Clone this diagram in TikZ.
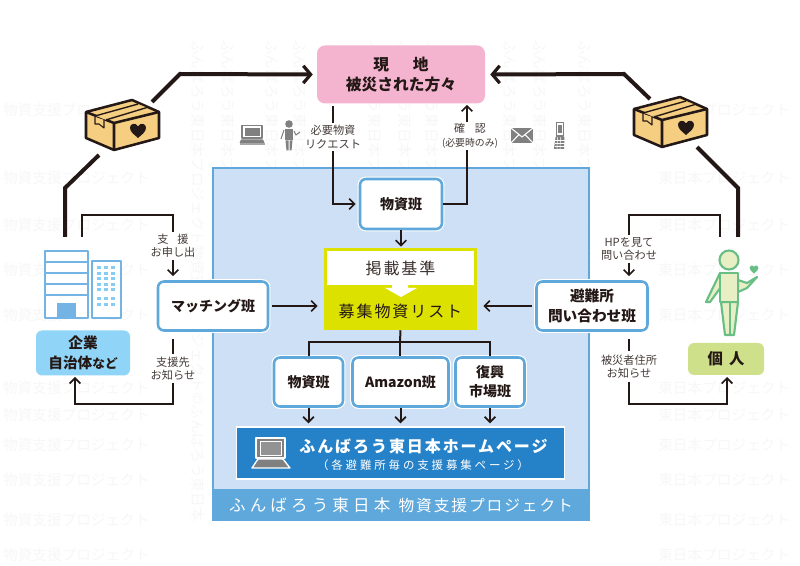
\documentclass[tikz,border=0pt]{standalone}
\usepackage{fontspec}
\setmainfont{Noto Sans CJK JP}
\newfontfamily\jpsp[LetterSpace=12]{Noto Sans CJK JP}
\newfontfamily\jpspw[LetterSpace=25]{Noto Sans CJK JP}
\usetikzlibrary{arrows.meta,calc}
\definecolor{inkc}{HTML}{231815}
\definecolor{pinkc}{HTML}{F4B4D0}
\definecolor{panelc}{HTML}{CDE0F5}
\definecolor{edgec}{HTML}{5FA8DC}
\definecolor{buildc}{HTML}{74B4E4}
\definecolor{barc}{HTML}{2682C8}
\definecolor{yelc}{HTML}{DDE100}
\definecolor{skyc}{HTML}{90D5F8}
\definecolor{limec}{HTML}{CFE08A}
\definecolor{kraftc}{HTML}{F5CE82}
\definecolor{greenc}{HTML}{68BE84}
\definecolor{paleg}{HTML}{E8EFC5}
\definecolor{greyc}{HTML}{808080}
\definecolor{wmc}{HTML}{F7F7F7}
\tikzset{
  sz/.style 2 args={minimum width=#1*0.75pt,minimum height=#2*0.75pt},
  team/.style={draw=edgec,line width=1.9pt,fill=white,rounded corners=4.5pt,inner sep=0pt,align=center,text=inkc,
     font=\fontsize{10.5}{15}\selectfont\bfseries,
     preaction={draw=white,line width=3.6pt}},
  lbl/.style={inner sep=0pt,align=center,text=inkc!85,font=\fontsize{8.4}{10}\selectfont},
  conn/.style={draw=inkc,line width=1.5pt},
  arr/.style={conn,-{Straight Barb[length=4pt,width=8pt,line width=1.3pt]}},
  big/.style={draw=inkc,line width=3pt},
  bigarr/.style={big,-{Straight Barb[length=5.5pt,width=13pt,line width=2.4pt]}},
  wmark/.style={text=wmc,font=\fontsize{11}{11}\selectfont,inner sep=0pt},
}
\newcommand{\heartat}[4]{% colour x y halfwidth
  \begin{scope}[shift={(#2,#3)},x=#4*0.75pt,y=-#4*0.75pt]
    \fill[#1] (0,1) .. controls (-.5,.55) and (-1,.25) .. (-1,-.3) .. controls (-1,-.8) and (-.3,-1) .. (0,-.45)
      .. controls (.3,-1) and (1,-.8) .. (1,-.3) .. controls (1,.25) and (.5,.55) .. (0,1) -- cycle;
  \end{scope}}
\newcommand{\parcel}[2]{%
  \begin{scope}[shift={(#1,#2)}]
    \draw[inkc,line width=1.9pt,fill=kraftc,line join=round] (86,112) -- (132,100) -- (159,112) -- (159,138) -- (114,150) -- (86,138) -- cycle;
    \draw[inkc,line width=1.9pt,line join=round] (86,112) -- (114,123) -- (159,112) (114,123) -- (114,150);
    \fill[kraftc!85!inkc] (96,116) -- (138,104) -- (147,107.5) -- (106,120) -- cycle;
    \fill[kraftc] (98,116) -- (139,105) -- (145,107.5) -- (104,119) -- cycle;
    \draw[inkc,line width=1pt] (95,116) -- (138,104) (106,120) -- (147,107.5);
    \draw[inkc,line width=.8pt,fill=kraftc,line join=round] (95,117) -- (95,124) -- (99,124) -- (104,128) -- (104,120);
    \heartat{inkc}{138}{130}{8}
  \end{scope}}
\begin{document}
\begin{tikzpicture}[x=0.75pt,y=-0.75pt]
\useasboundingbox (0,0) rectangle (800,566);
\fill[white] (0,0) rectangle (800,566);
% faint watermark
\foreach \xx in {198,228,272,300,375,405,432,510,540,585}
  \node[wmark,rotate=-90,anchor=west] at (\xx,40)
    {ふんばろう東日本プロジェクト物資支援プロジェクト©ふんばろう東日本};
\foreach \yy in {110,178,225,270,315,388,415,445,480,520,555}{
  \node[wmark,anchor=east] at (150,\yy) {物資支援プロジェクト};
  \node[wmark,anchor=west] at (658,\yy) {東日本プロジェクト};
}
% panel
\node[draw=edgec,fill=panelc,line width=2.2pt,inner sep=0pt,sz={376}{351}] (panel) at (401,343.5) {};
\node[fill=edgec,inner sep=0pt,sz={378}{32},text=white,font=\fontsize{12.4}{14}\selectfont] (band) at (401,505)
  {\jpspw ふんばろう東日本\hspace{.5em}\fontsize{11.8}{14}\selectfont\jpsp 物資支援プロジェクト};
% header box
\node[fill=pinkc,rounded corners=6pt,inner sep=0pt,sz={168}{58},align=center,text=inkc,
  font=\fontsize{11.8}{15}\selectfont\bfseries] (pink) at (401,74.5) {現\hspace{1.5em}地\\被災された方々};
% teams
\node[team,sz={82}{50}] (top) at (401,204) {物資班};
\node[team,sz={110}{49}] (match) at (213,306) {マッチング班};
\node[team,sz={111}{49},font=\fontsize{11}{15.5}\selectfont\bfseries] (shelter) at (592,306) {避難所\\問い合わせ班};
\node[team,sz={69}{49}] (t1) at (308.5,382) {物資班};
\node[team,sz={96}{49}] (t2) at (400.5,382) {Amazon班};
\node[team,sz={69}{49},font=\fontsize{10.5}{14.5}\selectfont\bfseries] (t3) at (490,382) {復興\\市場班};
% list box
\node[fill=yelc,draw=none,inner sep=0pt,sz={153}{82}] (listbox) at (400.5,289) {};
\node[fill=white,inner sep=0pt,sz={147}{34},text=inkc!90,font=\fontsize{12}{14}\selectfont] (crit) at (400.5,268) {\jpsp 掲載基準};
\fill[white] (392,285) -- (392,288) -- (385,288) -- (401,297) -- (417,288) -- (408,288) -- (408,285) -- cycle;
\node[inner sep=0pt,text=inkc,font=\fontsize{12}{14}\selectfont] (goods) at (400.5,311) {\jpsp 募集物資リスト};
% homepage bar
\node[fill=barc,draw=white,line width=1pt,inner sep=0pt,sz={328}{52}] (bar) at (400.5,453) {};
\node[inner sep=0pt,text=white,font=\fontsize{12}{14}\selectfont\bfseries] (hp) at (423.5,446) {\jpsp ふんばろう東日本ホームページ};
\node[inner sep=0pt,text=white,font=\fontsize{8.6}{12}\selectfont] (hps) at (423,465) {\jpspw （各避難所毎の支援募集ページ）};
% laptop on bar
\begin{scope}[line join=round]
  \draw[white,line width=1pt,fill=greyc] (256,438) rectangle (285,458);
  \draw[white,line width=.6pt,fill=greyc!85] (260,441) rectangle (281,455);
  \draw[white,line width=1pt,fill=greyc] (258,459) -- (283,459) -- (290,468) -- (252,468) -- cycle;
\end{scope}
% side labels
\node[fill=skyc,rounded corners=4.5pt,inner sep=0pt,sz={94}{45},text=inkc,align=center,font=\fontsize{11}{15}\selectfont\bfseries] (corp) at (83,353) {企業\\自治体{\fontsize{9.5}{15}\selectfont など}};
\node[fill=limec,rounded corners=4.5pt,inner sep=0pt,sz={76}{32},text=inkc,font=\fontsize{11.5}{15}\selectfont\bfseries] (indiv) at (726,359) {個\hspace{.4em}人};
% connector labels
\node[lbl,sz={50}{28}] (l1) at (333,137) {必要物資\\リクエスト};
\node[lbl,sz={60}{28},font=\fontsize{7.4}{10}\selectfont] (l2) at (467,136) {\hspace{4.5pt}{\fontsize{8.2}{10}\selectfont 確\hspace{.9em}認}\\\hspace{4.5pt}(必要時のみ)};
\node[lbl,sz={44}{28}] (l3) at (173,246) {支\hspace{.8em}援\\お申し出};
\node[lbl,sz={44}{28}] (l4) at (173,368.5) {支援先\\お知らせ};
\node[lbl,sz={58}{28}] (l5) at (629,249) {HPを見て\\問い合わせ};
\node[lbl,sz={58}{30}] (l6) at (629,366.5) {被災者住所\\お知らせ};
% parcels
\parcel{0}{0}
\parcel{548}{-3}
\coordinate (pL) at (152,102);
\coordinate (pL2) at (99,155);
\coordinate (pR) at (650,99);
\coordinate (pR2) at (697,147);
\coordinate (kL) at (180,74);
\coordinate (kR) at (624,74);
\coordinate (bL) at (65,188);
\coordinate (bR) at (738,188);
\coordinate (eL) at (65,237);
\coordinate (eR) at (738,237);
\coordinate (eL2) at (82,237);
\coordinate (eR2) at (720,237);
\coordinate (jn) at (400,342);
\coordinate (cornerL) at (173,215);
\coordinate (cornerR) at (629,215);
\coordinate (retL) at (75,404);
\coordinate (retR) at (727,404);
\coordinate (tipL) at (75,377);
\coordinate (tipR) at (727,377);
% thick flows
\draw[bigarr] (pL) -- (kL) -- ($(pink.west)+(-4,0)$);
\draw[bigarr] (pR) -- (kR) -- ($(pink.east)+(5,0)$);
\draw[big] (eL) -- (bL) -- (pL2);
\draw[big] (eR) -- (bR) -- (pR2);
% thin flows
\draw[conn] (l1.north) -- ($(l1.north |- pink.south)+(0,2)$);
\draw[arr] (l1.south) |- ($(top.west)+(-3,0)$);
\draw[conn] (top.east) -| (l2.south);
\draw[arr] (l2.north) -- ($(l2.north |- pink.south)+(0,1)$);
\draw[arr] (top.south) -- ($(listbox.north -| top.south)+(0,-1)$);
\draw[conn] (eL2) |- (cornerL) -- (l3.north);
\draw[arr] (l3.south) -- ($(l3.south |- match.north)+(0,-4)$);
\draw[conn] ($(match.south -| l4.north)+(0,7)$) -- (l4.north);
\draw[arr] (l4.south) |- (retL) -- (tipL);
\draw[conn] (eR2) |- (cornerR) -- (l5.north);
\draw[arr] (l5.south) -- ($(l5.south |- shelter.north)+(0,-4)$);
\draw[conn] ($(shelter.south -| l6.north)+(0,7)$) -- (l6.north);
\draw[arr] (l6.south) |- (retR) -- (tipR);
\draw[arr] ($(match.east)+(3,0)$) -- ($(match.east -| listbox.west)+(-6,0)$);
\draw[arr] ($(shelter.west)+(-3,0)$) -- ($(shelter.west -| listbox.east)+(6,0)$);
\draw[conn] (listbox.south) -- (jn);
\draw[conn] (t1.north) |- (jn) -| (t3.north);
\draw[conn] (jn) -- (t2.north -| jn);
\draw[arr] (t1.south) -- ($(t1.south |- bar.north)+(0,-3)$);
\draw[arr] (t2.south) -- ($(t2.south |- bar.north)+(0,-3)$);
\draw[arr] (t3.south) -- ($(t3.south |- bar.north)+(0,-3)$);
% building
\begin{scope}[draw=buildc,line width=1.8pt,line join=round]
  \draw[fill=white] (45,251) rectangle (88,318);
  \draw (45,262) -- (88,262) (45,273) -- (88,273) (45,284) -- (88,284) (45,295) -- (88,295);
  \fill[buildc] (57,303) rectangle (76,318);
  \draw[fill=white] (92,261) rectangle (121,318);
  \foreach \yy in {268,273.5,279,284.5,290,299,305}
    \foreach \xx in {99,106,113}
      \fill[skyc!80!edgec] (\xx-2,\yy-1.5) rectangle (\xx+2,\yy+1.5);
\end{scope}
% person
\begin{scope}[draw=greenc,fill=paleg,line width=1.6pt,line join=round]
  \filldraw (729,260) circle[radius=9.5];
  \filldraw (720,273) -- (706,302) -- (710,302) -- (721,287) -- cycle;
  \filldraw (738,280) -- (747,283) -- (757,277) -- (747,288) -- (738,292) -- cycle;
  \filldraw (721,302) -- (725,335) -- (734,335) -- (738,302) -- cycle;
  \draw (730,302) -- (730,335);
  \filldraw (720,273) rectangle (738,302);
  \heartat{greenc}{754}{269}{4.5}
\end{scope}
% small grey icons
\begin{scope}[line join=round]
  \draw[greyc,line width=1pt,fill=white] (242,125.5) rectangle (262,138);
  \fill[greyc] (244.5,128) rectangle (259.5,136);
  \fill[greyc] (241,139.5) -- (263,139.5) -- (264.5,143) -- (239.5,143) -- cycle;
  \fill[greyc!70] (239.5,143.5) rectangle (264.5,145.5);
  \fill[greyc] (289,124) circle[radius=3.8];
  \fill[greyc] (285,129) rectangle (293,140);
  \fill[greyc] (285.5,140.5) -- (288.6,140.5) -- (288.6,150.5) -- (286.5,150.5) -- cycle;
  \fill[greyc] (289.6,140.5) -- (292.5,140.5) -- (291.5,150.5) -- (289.6,150.5) -- cycle;
  \draw[greyc,line width=.8pt] (284,130) -- (281,139);
  \draw[greyc,line width=.8pt] (294,131) -- (296,135) -- (300,132);
  \fill[greyc] (511,128) rectangle (533,143);
  \draw[white,line width=.8pt] (511,128) -- (522,137) -- (533,128) (511,143) -- (519,134.5) (533,143) -- (525,134.5);
  \draw[greyc,line width=1pt,fill=white] (556.5,122.5) rectangle (563.5,136);
  \fill[greyc] (558.2,125) rectangle (561.8,133);
  \fill[greyc] (555.5,137) -- (564.5,137) -- (564,149) -- (554,149) -- cycle;
  \foreach \yy in {140,143,146} \draw[white,line width=.4pt] (555,\yy) -- (564.5,\yy);
  \foreach \xx in {557.5,560.5} \draw[white,line width=.4pt] (\xx,137.5) -- (\xx-.5,149);
\end{scope}
\end{tikzpicture}
\end{document}
